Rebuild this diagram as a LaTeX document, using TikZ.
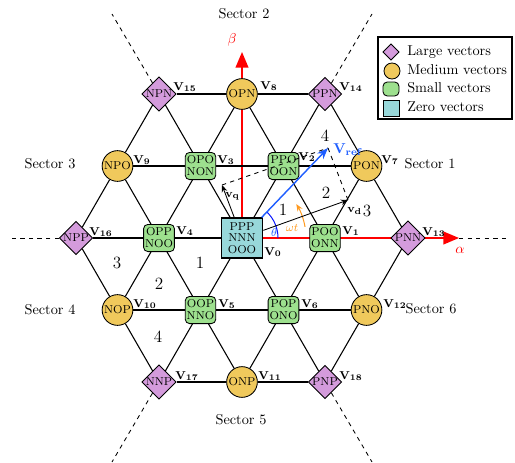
\documentclass[tikz,border=0pt]{standalone}
\usetikzlibrary{shapes.geometric,arrows.meta}
\definecolor{largec}{HTML}{D49BDC}
\definecolor{medc}{HTML}{F0C95C}
\definecolor{smallc}{HTML}{9DE08E}
\definecolor{zeroc}{HTML}{98D8DA}
\definecolor{refblue}{HTML}{1F5EFF}
\definecolor{wtorange}{HTML}{FF9A1F}
\begin{document}
\begin{tikzpicture}[x=0.7pt,y=-0.7pt,
  large/.style={diamond, draw, fill=largec, line width=0.6pt, inner sep=0pt,
    minimum size=23pt, font=\footnotesize},
  medium/.style={circle, draw, fill=medc, line width=0.6pt, inner sep=0pt,
    minimum size=21.5pt, font=\footnotesize},
  small/.style={rectangle, rounded corners=3pt, draw, fill=smallc, line width=0.6pt,
    inner sep=1pt, minimum width=21pt, minimum height=19pt, align=center,
    font=\fontsize{8}{8.4}\selectfont},
  zero/.style={rectangle, draw, fill=zeroc, line width=0.9pt, inner sep=1pt,
    minimum width=29pt, minimum height=28pt, align=center,
    font=\fontsize{8}{8.2}\selectfont},
  vlab/.style={anchor=mid west, inner sep=0pt, font=\footnotesize},
  grid/.style={line width=0.75pt},
  sector/.style={dashed, line width=0.6pt},
  axis/.style={red, line width=1.1pt, -{Triangle[length=11pt,width=9pt]}},
  vec/.style={line width=0.6pt, -{Stealth[length=5pt,width=4pt]}},
  refvec/.style={refblue, line width=1pt, -{Stealth[length=8pt,width=6pt]}},
  proj/.style={dashed, line width=0.6pt},
  region/.style={font=\large, inner sep=0pt},
  sectorlab/.style={font=\normalsize, inner sep=0pt},
]
\useasboundingbox (0,0) rectangle (515,462);

% origin and axis ends
\coordinate (o) at (242,238);
\coordinate (atip) at (459,238);
\coordinate (btip) at (242,52);
\draw[axis] (o) -- (atip);
\draw[axis] (o) -- (btip);
\node[red, font=\normalsize] (alab) at (460,250) {$\alpha$};
\node[red, font=\normalsize] (blab) at (232,40) {$\beta$};

% space vectors
\node[zero]   (n0)  at (242,238)   {PPP\\NNN\\OOO};
\node[small]  (n1)  at (325,238)   {POO\\ONN};
\node[small]  (n2)  at (283.5,166) {PPO\\OON};
\node[small]  (n3)  at (200.5,166) {OPO\\NON};
\node[small]  (n4)  at (159,238)   {OPP\\NOO};
\node[small]  (n5)  at (200.5,310) {OOP\\NNO};
\node[small]  (n6)  at (283.5,310) {POP\\ONO};
\node[medium] (n7)  at (366.5,166) {PON};
\node[medium] (n8)  at (242,94)    {OPN};
\node[medium] (n9)  at (117.5,166) {NPO};
\node[medium] (n10) at (117.5,310) {NOP};
\node[medium] (n11) at (242,382)   {ONP};
\node[medium] (n12) at (366.5,310) {PNO};
\node[large]  (n13) at (408,238)   {PNN};
\node[large]  (n14) at (325,94)    {PPN};
\node[large]  (n15) at (159,94)    {NPN};
\node[large]  (n16) at (76,238)    {NPP};
\node[large]  (n17) at (159,382)   {NNP};
\node[large]  (n18) at (325,382)   {PNP};

% hexagon lattice: rows
\draw[grid] (n15) -- (n8) -- (n14);
\draw[grid] (n9) -- (n3) -- (n2) -- (n7);
\draw[grid] (n16) -- (n4) -- (n0);
\draw[grid] (n10) -- (n5) -- (n6) -- (n12);
\draw[grid] (n17) -- (n11) -- (n18);
% rising diagonals
\draw[grid] (n16) -- (n9) -- (n15);
\draw[grid] (n10) -- (n4) -- (n3) -- (n8);
\draw[grid] (n17) -- (n5) -- (n0) -- (n2) -- (n14);
\draw[grid] (n11) -- (n6) -- (n1) -- (n7);
\draw[grid] (n18) -- (n12) -- (n13);
% falling diagonals
\draw[grid] (n13) -- (n7) -- (n14);
\draw[grid] (n12) -- (n1) -- (n2) -- (n8);
\draw[grid] (n18) -- (n6) -- (n0) -- (n3) -- (n15);
\draw[grid] (n11) -- (n5) -- (n4) -- (n9);
\draw[grid] (n17) -- (n10) -- (n16);

% sector borders
\coordinate (s1) at (112,14);
\coordinate (s2) at (372,14);
\coordinate (s3) at (112,462);
\coordinate (s4) at (372,462);
\coordinate (s5) at (12,238);
\coordinate (s6) at (510,238);
\draw[sector] (n15) -- (s1);
\draw[sector] (n14) -- (s2);
\draw[sector] (n17) -- (s3);
\draw[sector] (n18) -- (s4);
\draw[sector] (n16) -- (s5);
\draw[sector] (atip) -- (s6);

% vector labels
\node[vlab] (l0)  at (264,252) {$\mathbf{V_{0}}$};
\node[vlab] (l1)  at (342,231) {$\mathbf{V_{1}}$};
\node[vlab] (l2)  at (298,157) {$\mathbf{V_{2}}$};
\node[vlab] (l3)  at (217,160) {$\mathbf{V_{3}}$};
\node[vlab] (l4)  at (176,231) {$\mathbf{V_{4}}$};
\node[vlab] (l5)  at (218,304) {$\mathbf{V_{5}}$};
\node[vlab] (l6)  at (301,304) {$\mathbf{V_{6}}$};
\node[vlab] (l7)  at (381,160) {$\mathbf{V_{7}}$};
\node[vlab] (l8)  at (260,86)  {$\mathbf{V_{8}}$};
\node[vlab] (l9)  at (133,160) {$\mathbf{V_{9}}$};
\node[vlab] (l10) at (133,304) {$\mathbf{V_{10}}$};
\node[vlab] (l11) at (258,376) {$\mathbf{V_{11}}$};
\node[vlab] (l12) at (383,304) {$\mathbf{V_{12}}$};
\node[vlab] (l13) at (422,232) {$\mathbf{V_{13}}$};
\node[vlab] (l14) at (339,87)  {$\mathbf{V_{14}}$};
\node[vlab] (l15) at (173,87)  {$\mathbf{V_{15}}$};
\node[vlab] (l16) at (89,232)  {$\mathbf{V_{16}}$};
\node[vlab] (l17) at (175,376) {$\mathbf{V_{17}}$};
\node[vlab] (l18) at (339,376) {$\mathbf{V_{18}}$};

% sector names
\node[sectorlab] (sec1) at (430,164) {Sector 1};
\node[sectorlab] (sec2) at (244,14)  {Sector 2};
\node[sectorlab] (sec3) at (50,164)  {Sector 3};
\node[sectorlab] (sec4) at (50,310)  {Sector 4};
\node[sectorlab] (sec5) at (241,420) {Sector 5};
\node[sectorlab] (sec6) at (431,309) {Sector 6};

% region numbers
\node[region] (r11) at (283,210) {1};
\node[region] (r12) at (326,193) {2};
\node[region] (r13) at (367,211) {3};
\node[region] (r14) at (325,136) {4};
\node[region] (r41) at (200,263) {1};
\node[region] (r42) at (159,284) {2};
\node[region] (r43) at (117,263) {3};
\node[region] (r44) at (158,337) {4};

% reference vector and its d-q parts
\coordinate (vref) at (328,148);
\coordinate (vd) at (348,200);
\coordinate (vq) at (222,185);
\draw[blue!75!refblue, line width=0.7pt] ([shift={(0:36)}]o) arc[start angle=0, end angle=-46, radius=36];
\draw[wtorange, line width=0.7pt, -{Stealth[length=5pt,width=4pt]}]
  ([shift={(-10:64)}]o) arc[start angle=-10, end angle=-32, radius=64];
\draw[proj] (vq) -- (vref);
\draw[proj] (vd) -- (vref);
\draw[vec] (n0) -- (vd);
\draw[vec] (n0) -- (vq);
\draw[refvec] (n0) -- (vref);
\node[refblue, anchor=mid west, inner sep=0pt] (lref) at (333,150) {$\mathbf{V}_{\mathbf{ref}}$};
\node[anchor=mid west, inner sep=0pt, font=\footnotesize] (ld) at (347,209) {$\mathbf{v_d}$};
\node[anchor=mid west, inner sep=0pt, font=\footnotesize] (lq) at (225,194) {$\mathbf{v_q}$};
\node[refblue, inner sep=0pt, font=\footnotesize] (lth) at (274,233) {$\theta$};
\node[wtorange, inner sep=0pt, font=\footnotesize] (lwt) at (292,228) {$\omega t$};

% legend
\draw[line width=0.8pt] (378,37) rectangle (512,119);
\node[large, minimum size=11.5pt, font=\tiny] (k1) at (391,52) {};
\node[medium, minimum size=11.2pt] (k2) at (392,71) {};
\node[small, minimum width=11.2pt, minimum height=9.8pt, inner sep=0pt] (k3) at (391,89) {};
\node[zero, minimum width=11.2pt, minimum height=11.2pt, inner sep=0pt, line width=0.7pt] (k4) at (391,108) {};
\node[anchor=mid west, inner sep=0pt] (t1) at (407,52)  {Large vectors};
\node[anchor=mid west, inner sep=0pt] (t2) at (407,71)  {Medium vectors};
\node[anchor=mid west, inner sep=0pt] (t3) at (407,89)  {Small vectors};
\node[anchor=mid west, inner sep=0pt] (t4) at (407,108) {Zero vectors};
\end{tikzpicture}
\end{document}
